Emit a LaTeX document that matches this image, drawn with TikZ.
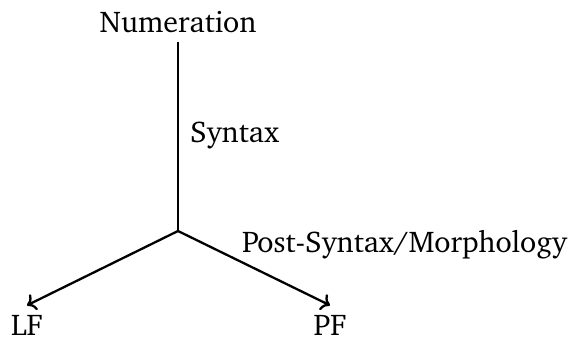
\documentclass[tikz,border=0pt]{standalone}
\usepackage[T1]{fontenc}
\usepackage{charter}
\usetikzlibrary{arrows.meta}
\tikzset{
  lbl/.style={inner sep=0pt, font=\fontsize{30}{36}\selectfont},
  conn/.style={line width=2.3pt},
  arr/.style={conn, -{To[scale=1.25]}}
}
\begin{document}
\begin{tikzpicture}[x=1pt,y=-1pt]
\useasboundingbox (0,0) rectangle (574,340);
\node[lbl, anchor=base] (num) at (178,32) {Numeration};
\coordinate (top) at (178,42);
\coordinate (j) at (178,231);
\node[lbl, anchor=base west] (syn) at (190,142) {Syntax};
\node[lbl, anchor=base west] (post) at (242,252) {Post-Syntax/Morphology};
\node[lbl, anchor=base] (lf) at (27,335) {LF};
\node[lbl, anchor=base] (pf) at (330,335) {PF};
\coordinate (lfin) at ([yshift=9pt]lf.north);
\coordinate (pfin) at ([yshift=9pt]pf.north);
\draw[conn] (top) -- (j);
\draw[arr] (j) -- (lfin);
\draw[arr] (j) -- (pfin);
\end{tikzpicture}
\end{document}
